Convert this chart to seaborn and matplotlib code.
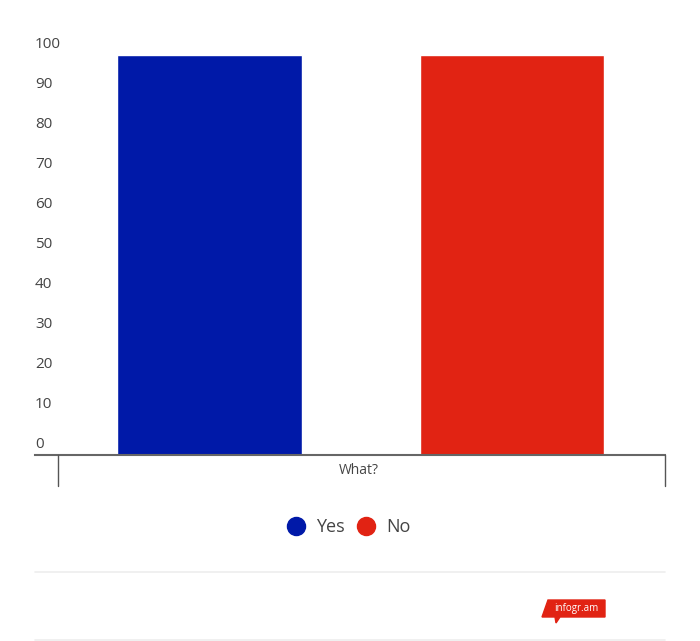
import matplotlib
matplotlib.use("Agg")
import matplotlib.pyplot as plt
import matplotlib.transforms as mtrans
import seaborn as sns
import pandas as pd
from matplotlib.patches import Polygon
from matplotlib.lines import Line2D

series = ["Yes", "No"]
values = [100, 100]
colors = ["#0019a8", "#e12313"]
category = "What?"
yticks = [0, 10, 20, 30, 40, 50, 60, 70, 80, 90, 100]

sns.set_style("white")
plt.rcParams['font.family'] = ['Open Sans', 'DejaVu Sans']

W, H = 700, 641
fig = plt.figure(figsize=(7, 6.41), dpi=100)
ax = fig.add_axes([35/W, 1-455/H, 630/W, 400/H])
df = pd.DataFrame({"series": series, "value": values})
sns.barplot(data=df, x="series", y="value", hue="series", palette=colors,
            width=0.61, ax=ax, legend=False, saturation=1)
ax.set_xlim(-0.577, 1.506)
ax.set_ylim(0, 100)
ax.set_yticks(yticks)
ax.set_yticklabels([])
ax.tick_params(axis="y", length=0)
off = mtrans.ScaledTranslation(0, 11/100, fig.dpi_scale_trans)
tr = mtrans.blended_transform_factory(ax.transAxes, ax.transData) + off
for t in yticks:
    ax.text(0, t, str(t), transform=tr, ha="left", va="center", fontsize=11,
            color="#444444", clip_on=False)
ax.set_xticks([]); ax.set_xlabel(""); ax.set_ylabel("")
for s in ["top", "right", "left"]:
    ax.spines[s].set_visible(False)
ax.spines["bottom"].set_color("#666666"); ax.spines["bottom"].set_linewidth(1.5)

def fx(px): return px / W
def fy(py): return 1 - py / H
for x in (58, 665):
    fig.add_artist(Line2D([fx(x), fx(x)], [fy(455), fy(486)], color="#555555", lw=1))
fig.text(fx(359), fy(471), category, ha="center", va="center", fontsize=10, color="#444444")

handles = [Line2D([], [], marker="o", ls="", color=c, markersize=13) for c in colors]
fig.legend(handles, series, loc="center", bbox_to_anchor=(fx(344), fy(527)), ncol=2,
           frameon=False, fontsize=13, handletextpad=0.1, columnspacing=0.2,
           labelcolor="#444444")

for y in (572, 640):
    fig.add_artist(Line2D([fx(35), fx(665)], [fy(y), fy(y)], color="#eeeeee", lw=1.2))
badge = Polygon([[fx(548), fy(600)], [fx(605), fy(600)], [fx(605), fy(617)],
                 [fx(560), fy(617)], [fx(556), fy(623)], [fx(555), fy(617)],
                 [fx(542), fy(617)]], closed=True, color="#e12313", transform=fig.transFigure)
fig.add_artist(badge)
fig.text(fx(576), fy(608.5), "infogr.am", ha="center", va="center", fontsize=7, color="white")

fig.savefig("out.png", dpi=100)
